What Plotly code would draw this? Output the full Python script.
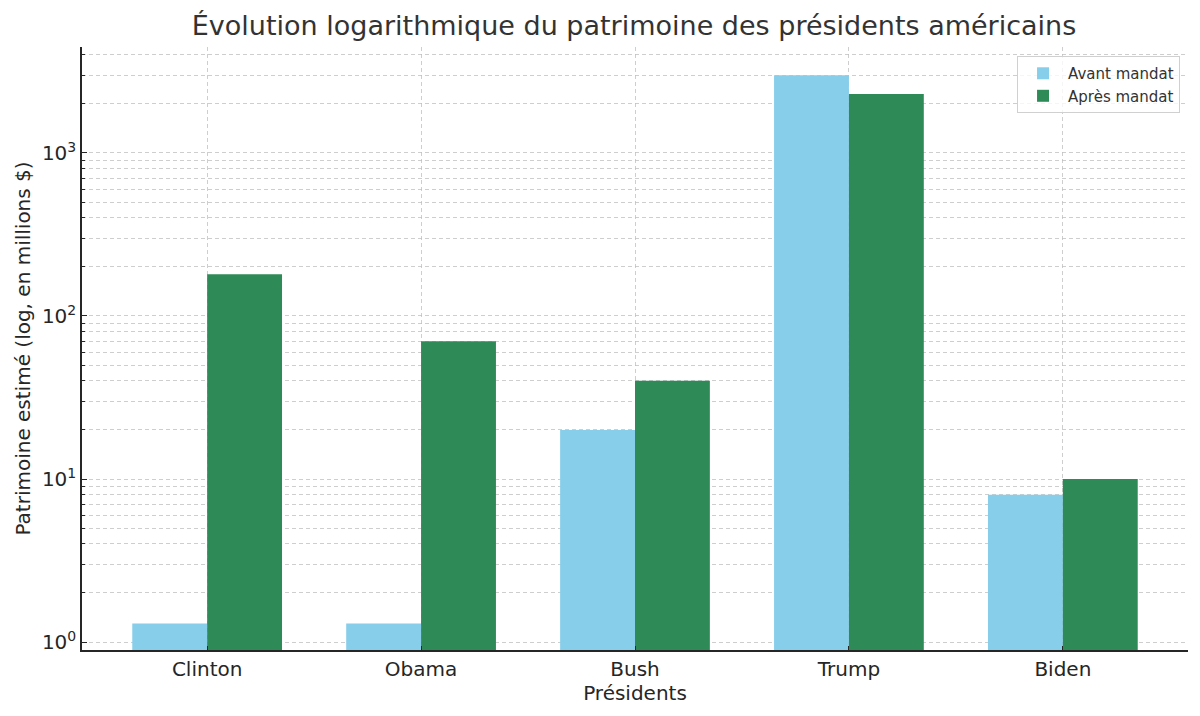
import plotly.graph_objects as go

presidents = ["Clinton", "Obama", "Bush", "Trump", "Biden"]
avant = [1.3, 1.3, 20, 3000, 8]
apres = [180, 70, 40, 2300, 10]

major_ticks = [1, 10, 100, 1000]
major_text = ["10<sup>0</sup>", "10<sup>1</sup>", "10<sup>2</sup>", "10<sup>3</sup>"]
minor_ticks = [m * 10 ** e for e in range(-1, 4) for m in range(2, 10)]

font = "DejaVu Sans"
grid = "rgba(190,190,190,0.75)"

fig = go.Figure()
fig.add_trace(go.Bar(x=presidents, y=avant, name="Avant mandat",
                     marker=dict(color="#87CEEB", line=dict(width=0))))
fig.add_trace(go.Bar(x=presidents, y=apres, name="Après mandat",
                     marker=dict(color="#2E8B57", line=dict(width=0))))

# the page body adds 8px on the left/top, so margins are shifted for that
fig.update_layout(
    width=1200, height=716,
    barmode="group", bargap=0.3, bargroupgap=0,
    plot_bgcolor="white", paper_bgcolor="white",
    margin=dict(l=74, r=20, t=39, b=74),
    font=dict(family=font, color="#262626"),
    title=dict(text="Évolution logarithmique du patrimoine des présidents américains",
               x=0.5217, xanchor="center", y=0.975, yanchor="middle",
               font=dict(size=27, color="#333333")),
    showlegend=True,
    legend=dict(x=0.9928, xanchor="right", y=0.985, yanchor="top",
                itemwidth=40,
                bgcolor="rgba(255,255,255,0.8)", bordercolor="#d0d0d0",
                borderwidth=1, font=dict(size=15, color="#333333")),
)

fig.update_xaxes(
    range=[-0.585, 4.585], automargin=False,
    showline=True, linecolor="#262626", linewidth=1.5,
    showgrid=True, gridcolor=grid, griddash="4px,3px", gridwidth=1,
    ticks="inside", ticklen=4, tickcolor="#262626",
    tickfont=dict(size=20),
    title=dict(text="Présidents", font=dict(size=20), standoff=2),
)

fig.update_yaxes(
    type="log", range=[-0.049, 3.65], automargin=False,
    showline=True, linecolor="#262626", linewidth=1.5,
    tickvals=major_ticks, ticktext=major_text,
    ticks="inside", ticklen=5, tickcolor="#262626",
    tickfont=dict(size=20),
    showgrid=True, gridcolor=grid, griddash="4px,3px", gridwidth=1,
    minor=dict(tickvals=minor_ticks, ticks="inside", ticklen=3,
               tickcolor="#262626", showgrid=True, gridcolor=grid,
               griddash="4px,3px", gridwidth=0.8),
    zeroline=False,
    title=dict(text="Patrimoine estimé (log, en millions $)", font=dict(size=20), standoff=6),
)

fig.write_html("out.html")
